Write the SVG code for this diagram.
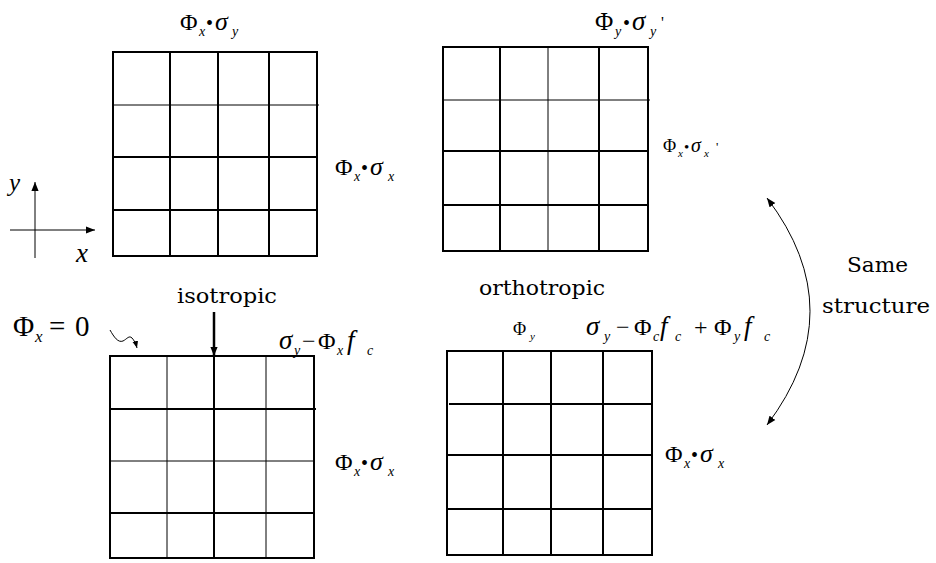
<svg xmlns="http://www.w3.org/2000/svg" width="936" height="563" viewBox="0 0 936 563">
<style>
.thick{stroke:#000;stroke-width:2;fill:none}
.thin{stroke:#000;stroke-width:1;fill:none}
.ser{font-family:'Liberation Serif','Times New Roman',serif !important;fill:#000}
.dv{font-family:'DejaVu Serif',serif !important;fill:#000}
.it{font-style:italic}
</style>
<defs>
<marker id="ah" viewBox="0 0 10 10" refX="10" refY="5" markerWidth="9" markerHeight="9" markerUnits="userSpaceOnUse" orient="auto-start-reverse">
<path d="M0,1 L10,5 L0,9 Z" fill="#000"/>
</marker>
<marker id="ahs" viewBox="0 0 10 10" refX="10" refY="5" markerWidth="7" markerHeight="7" markerUnits="userSpaceOnUse" orient="auto">
<path d="M0,1 L10,5 L0,9 Z" fill="#000"/>
</marker>
</defs>
<rect width="936" height="563" fill="#fff"/>

<g id="axes">
<line class="thin" x1="35" y1="258" x2="35" y2="182" marker-end="url(#ah)"/>
<line class="thin" x1="10" y1="230" x2="95" y2="230" marker-end="url(#ah)"/>
<text class="ser it" style="font-family:'Liberation Serif',serif" x="9" y="191" font-size="25">y</text>
<text class="ser it" style="font-family:'Liberation Serif',serif" x="76" y="262" font-size="27">x</text>
</g>

<g id="grid-top-left">
<rect class="thick" x="113" y="52" width="204" height="204"/>
<line class="thick" x1="170" y1="52" x2="170" y2="256"/>
<line class="thick" x1="218" y1="52" x2="218" y2="256"/>
<line class="thick" x1="269" y1="52" x2="269" y2="256"/>
<line class="thin" x1="113" y1="105" x2="319" y2="105"/>
<line class="thick" x1="113" y1="157" x2="317" y2="157"/>
<line class="thick" x1="113" y1="210" x2="317" y2="210"/>
<text class="ser" style="font-family:'Liberation Serif',serif" font-size="24" y="30"><tspan x="180">Φ</tspan><tspan x="199" dy="6" font-size="14" class="it">x</tspan><tspan x="206" dy="-6" font-size="20">•</tspan><tspan x="215" class="it" font-size="26">σ</tspan><tspan x="232" dy="6" font-size="14" class="it">y</tspan></text>
<text class="ser" style="font-family:'Liberation Serif',serif" font-size="24" y="175"><tspan x="335">Φ</tspan><tspan x="354" dy="6" font-size="14" class="it">x</tspan><tspan x="361" dy="-6" font-size="20">•</tspan><tspan x="370" class="it" font-size="26">σ</tspan><tspan x="388" dy="6" font-size="14" class="it">x</tspan></text>
</g>

<g id="grid-top-right">
<rect class="thick" x="443" y="47" width="205" height="204"/>
<line class="thick" x1="500" y1="47" x2="500" y2="251"/>
<line class="thin" x1="548" y1="47" x2="548" y2="251"/>
<line class="thick" x1="599" y1="47" x2="599" y2="251"/>
<line class="thin" x1="443" y1="100" x2="650" y2="100"/>
<line class="thick" x1="443" y1="151" x2="648" y2="151"/>
<line class="thick" x1="443" y1="205" x2="648" y2="205"/>
<text class="ser" style="font-family:'Liberation Serif',serif" font-size="25" y="30"><tspan x="595">Φ</tspan><tspan x="615" dy="6" font-size="14" class="it">y</tspan><tspan x="623" dy="-6" font-size="20">•</tspan><tspan x="632" class="it" font-size="27">σ</tspan><tspan x="650" dy="6" font-size="14" class="it">y</tspan><tspan x="661" dy="-8" font-size="16">'</tspan></text>
<text class="ser" style="font-family:'Liberation Serif',serif" font-size="18" y="152"><tspan x="663">Φ</tspan><tspan x="678" dy="5" font-size="11" class="it">x</tspan><tspan x="684" dy="-5" font-size="15">•</tspan><tspan x="691" class="it" font-size="20">σ</tspan><tspan x="704" dy="5" font-size="11" class="it">x</tspan><tspan x="716" dy="-6" font-size="13">'</tspan></text>
</g>

<g id="grid-bottom-left">
<rect class="thick" x="110" y="356" width="204" height="202"/>
<line class="thin" x1="167" y1="356" x2="167" y2="558"/>
<line class="thick" x1="214" y1="356" x2="214" y2="558"/>
<line class="thin" x1="266" y1="356" x2="266" y2="558"/>
<line class="thick" x1="110" y1="409" x2="316" y2="409"/>
<line class="thin" x1="110" y1="461" x2="314" y2="461"/>
<line class="thick" x1="110" y1="513" x2="314" y2="513"/>
<text class="dv" x="177" y="303" font-size="20" textLength="100" lengthAdjust="spacingAndGlyphs">isotropic</text>
<text class="ser" style="font-family:'Liberation Serif',serif" font-size="29" y="336"><tspan x="13">Φ</tspan><tspan x="35" dy="6" font-size="17" class="it">x</tspan><tspan x="49" dy="-6">=</tspan><tspan x="75">0</tspan></text>
<text class="ser" style="font-family:'Liberation Serif',serif" font-size="24" y="349"><tspan x="279" class="it" font-size="27">σ</tspan><tspan x="294" dy="6" font-size="14" class="it">y</tspan><tspan x="302" dy="-6">−</tspan><tspan x="318">Φ</tspan><tspan x="337" dy="6" font-size="14" class="it">x</tspan><tspan x="347" dy="-6" class="it" font-size="27">f</tspan><tspan x="367" dy="6" font-size="14" class="it">c</tspan></text>
<text class="ser" style="font-family:'Liberation Serif',serif" font-size="24" y="470"><tspan x="335">Φ</tspan><tspan x="354" dy="6" font-size="14" class="it">x</tspan><tspan x="361" dy="-6" font-size="20">•</tspan><tspan x="370" class="it" font-size="26">σ</tspan><tspan x="388" dy="6" font-size="14" class="it">x</tspan></text>
</g>

<g id="grid-bottom-right">
<rect class="thick" x="447" y="351" width="205" height="204"/>
<line class="thick" x1="503" y1="351" x2="503" y2="555"/>
<line class="thick" x1="551" y1="351" x2="551" y2="555"/>
<line class="thick" x1="603" y1="351" x2="603" y2="555"/>
<line class="thick" x1="449" y1="404" x2="652" y2="404"/>
<line class="thick" x1="447" y1="455" x2="652" y2="455"/>
<line class="thick" x1="447" y1="509" x2="652" y2="509"/>
<text class="dv" x="479" y="295" font-size="20" textLength="126" lengthAdjust="spacingAndGlyphs">orthotropic</text>
<text class="ser" style="font-family:'Liberation Serif',serif" font-size="18" y="335"><tspan x="513">Φ</tspan><tspan x="530" dy="5" font-size="11" class="it">y</tspan></text>
<text class="ser" style="font-family:'Liberation Serif',serif" font-size="24" y="335"><tspan x="586" class="it" font-size="27">σ</tspan><tspan x="604" dy="6" font-size="14" class="it">y</tspan><tspan x="616" dy="-6">−</tspan><tspan x="634">Φ</tspan><tspan x="653" dy="6" font-size="14" class="it">c</tspan><tspan x="660" dy="-6" class="it" font-size="27">f</tspan><tspan x="675" dy="6" font-size="14" class="it">c</tspan><tspan x="694" dy="-6">+</tspan><tspan x="714">Φ</tspan><tspan x="734" dy="6" font-size="14" class="it">y</tspan><tspan x="744" dy="-6" class="it" font-size="27">f</tspan><tspan x="764" dy="6" font-size="14" class="it">c</tspan></text>
<text class="ser" style="font-family:'Liberation Serif',serif" font-size="24" y="462"><tspan x="665">Φ</tspan><tspan x="684" dy="6" font-size="14" class="it">x</tspan><tspan x="691" dy="-6" font-size="20">•</tspan><tspan x="700" class="it" font-size="26">σ</tspan><tspan x="718" dy="6" font-size="14" class="it">x</tspan></text>
</g>

<g id="same-structure">
<text class="dv" x="847" y="272" font-size="20" textLength="61" lengthAdjust="spacingAndGlyphs">Same</text>
<text class="dv" x="822" y="313" font-size="20" textLength="108" lengthAdjust="spacingAndGlyphs">structure</text>
</g>

<g id="connectors">
<line x1="214" y1="312" x2="214" y2="356" stroke="#000" stroke-width="2.5" marker-end="url(#ah)"/>
<path class="thin" d="M110,330 C114,337 118,343 123,341 C127,339 129,335 132,338 C134,340 136,344 137,348" marker-end="url(#ahs)"/>
<path class="thin" d="M767,198 Q853,311 767,425" marker-start="url(#ah)" marker-end="url(#ah)"/>
</g>
</svg>
